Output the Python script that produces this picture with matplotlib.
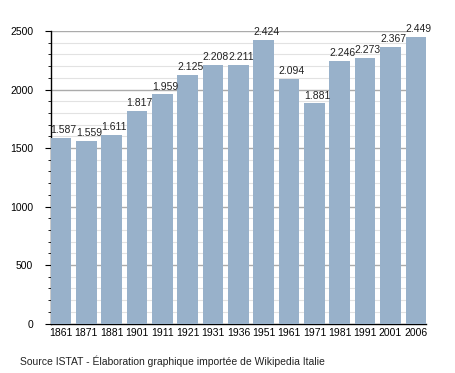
import matplotlib
matplotlib.use('Agg')
import matplotlib.pyplot as plt
import numpy as np

# population data (ISTAT)
years = ['1861', '1871', '1881', '1901', '1911', '1921', '1931', '1936',
         '1951', '1961', '1971', '1981', '1991', '2001', '2006']
population = [1587, 1559, 1611, 1817, 1959, 2125, 2208, 2211,
              2424, 2094, 1881, 2246, 2273, 2367, 2449]
y_major = [0, 500, 1000, 1500, 2000, 2500]
caption = 'Source ISTAT - Élaboration graphique importée de Wikipedia Italie'

plt.rcParams['font.family'] = ['Liberation Sans', 'DejaVu Sans']
fs = 7.5
bar_w = 0.81

fig = plt.figure(figsize=(4.55, 3.73), dpi=100)
ax = fig.add_axes([0.1114, 0.1327, 0.825, 0.784])

x = np.arange(len(years))
ax.bar(x, population, width=bar_w, color='#98b1ca', zorder=3, clip_on=False)

# grid lines stop at the left edge of the last bar, like the original
x0, x1 = -bar_w / 2, x[-1] - bar_w / 2
for v in range(100, 2600, 100):
    if v % 500 == 0:
        ax.hlines(v, x0, x1, color='#ababab', lw=1.0, zorder=1)
    else:
        ax.hlines(v, x0, x1, color='#e2e2e2', lw=0.8, zorder=1)

for xi, v in zip(x, population):
    ax.annotate(f'{v:,}'.replace(',', '.'), (xi + 0.1, v), xytext=(0, 2),
                textcoords='offset points', ha='center', va='bottom',
                fontsize=fs, color='#222222', zorder=4)

ax.set_xlim(-bar_w / 2, x[-1] + bar_w / 2)
ax.set_ylim(0, 2500)
ax.set_xticks(x)
ax.set_xticklabels(years, fontsize=fs)
ax.set_yticks(y_major)
ax.set_yticklabels([str(v) for v in y_major], fontsize=fs)
ax.set_yticks(range(0, 2501, 100), minor=True)
ax.tick_params(axis='x', length=0, pad=3.5)
ax.tick_params(axis='y', which='major', length=4, pad=8.5, direction='out')
ax.tick_params(axis='y', which='minor', length=2.5, direction='out')

for side in ['top', 'right']:
    ax.spines[side].set_visible(False)
ax.spines['left'].set_linewidth(1.0)
ax.spines['bottom'].set_linewidth(1.0)

fig.text(20 / 455, 1 - 365 / 373, caption, fontsize=fs, ha='left', va='baseline',
         color='#222222')

fig.savefig('out.png', dpi=100)
